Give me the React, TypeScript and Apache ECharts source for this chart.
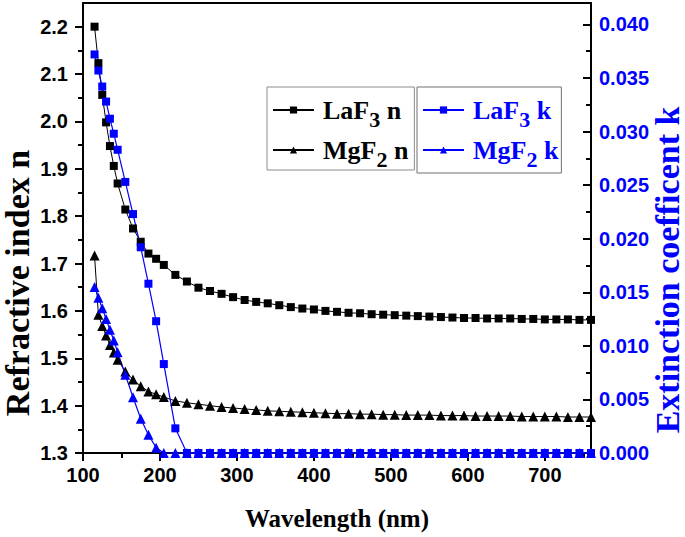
import React, { useEffect, useRef } from 'react';
import * as echarts from 'echarts';

// Wavelength (nm) sampling points, shared by all four curves
const wavelength = [
  115, 120, 125, 130, 135, 140, 145, 155, 165, 175, 185, 195, 205,
  220, 235, 250, 265, 280, 295, 310, 325, 340, 355, 370, 385, 400, 415, 430,
  445, 460, 475, 490, 505, 520, 535, 550, 565, 580, 595, 610, 625, 640, 655,
  670, 685, 700, 715, 730, 745, 760,
];

// Refractive index n (left axis)
const laf3N = [
  2.200, 2.123, 2.056, 1.998, 1.948, 1.906, 1.869, 1.814, 1.774, 1.746, 1.721, 1.710, 1.697,
  1.676, 1.662, 1.649, 1.642, 1.636, 1.629, 1.623, 1.619, 1.616, 1.612, 1.608, 1.605, 1.603, 1.600, 1.598,
  1.596, 1.595, 1.593, 1.592, 1.591, 1.590, 1.589, 1.588, 1.587, 1.586, 1.585, 1.585, 1.584, 1.584, 1.584,
  1.583, 1.583, 1.582, 1.582, 1.582, 1.581, 1.581,
];
const mgf2N = [
  1.717, 1.592, 1.568, 1.548, 1.528, 1.512, 1.497, 1.472, 1.455, 1.441, 1.430, 1.424, 1.418,
  1.410, 1.406, 1.403, 1.400, 1.397, 1.395, 1.393, 1.391, 1.389, 1.388, 1.387, 1.386, 1.385, 1.384, 1.383,
  1.383, 1.382, 1.382, 1.381, 1.381, 1.380, 1.380, 1.380, 1.379, 1.379, 1.379, 1.378, 1.378, 1.378, 1.378,
  1.377, 1.377, 1.377, 1.377, 1.376, 1.376, 1.376,
];

// Extinction coefficient k (right axis)
const laf3K = [
  0.0372, 0.0357, 0.0342, 0.0328, 0.0312, 0.0298, 0.0283, 0.0253, 0.0223, 0.0192, 0.0158, 0.0123, 0.0083,
  0.0023, 0, 0, 0, 0, 0, 0, 0, 0, 0, 0, 0, 0, 0, 0,
  0, 0, 0, 0, 0, 0, 0, 0, 0, 0, 0, 0, 0, 0, 0,
  0, 0, 0, 0, 0, 0, 0,
];
const mgf2K = [
  0.0155, 0.0145, 0.0135, 0.0125, 0.0115, 0.0105, 0.0094, 0.0073, 0.0052, 0.0032, 0.0017, 0.0005, 0,
  0, 0, 0, 0, 0, 0, 0, 0, 0, 0, 0, 0, 0, 0, 0,
  0, 0, 0, 0, 0, 0, 0, 0, 0, 0, 0, 0, 0, 0, 0,
  0, 0, 0, 0, 0, 0, 0,
];

// Tick values
const xTicks = [100, 200, 300, 400, 500, 600, 700];
const xMinorTicks = [150, 250, 350, 450, 550, 650, 750];
const nTicks = [1.3, 1.4, 1.5, 1.6, 1.7, 1.8, 1.9, 2.0, 2.1, 2.2];
const nMinorTicks = [1.35, 1.45, 1.55, 1.65, 1.75, 1.85, 1.95, 2.05, 2.15];
const kTicks = [0, 0.005, 0.01, 0.015, 0.02, 0.025, 0.03, 0.035, 0.04];
const kMinorTicks = [0.0025, 0.0075, 0.0125, 0.0175, 0.0225, 0.0275, 0.0325, 0.0375];

const seriesNames = ['LaF3 n', 'MgF2 n', 'LaF3 k', 'MgF2 k'];

const BLUE = '#0000ff';
const SANS = '"Liberation Sans", Arial, sans-serif';
const SERIF = '"Liberation Serif", "Times New Roman", serif';

const legendFormatter = (name: string) => {
  const m = name.match(/^([A-Za-z]+)(\d)(.*)$/);
  if (!m) return name;
  return `{p|}{a|${m[1]}}{s|${m[2]}}{a|${m[3]}}`;
};

const legendRich = {
  p: { width: 4, lineHeight: 40 },
  a: {
    fontFamily: SERIF, fontWeight: 'bold', fontSize: 26, lineHeight: 40,
    verticalAlign: 'top', padding: [7, 0, 0, 0],
  },
  s: {
    fontFamily: SERIF, fontWeight: 'bold', fontSize: 22, lineHeight: 40,
    verticalAlign: 'bottom',
  },
};

export default function App() {
  const ref = useRef<HTMLDivElement>(null);

  useEffect(() => {
    if (!ref.current) return;
    const chart = echarts.init(ref.current, null, { renderer: 'svg' });
    const xmin = 100, xmax = 760;
    const nmin = 1.3, nmax = 2.25;
    const kmin = 0, kmax = 0.042;

    const mk = (vals: number[]) => wavelength.map((w, i) => [w, vals[i]]);

    const option: any = {
      animation: false,
      backgroundColor: '#ffffff',
      grid: { left: 83, right: 94, top: 3, bottom: 84, containLabel: false },
      legend: [
        {
          data: [seriesNames[0], seriesNames[1]],
          orient: 'vertical',
          left: 267,
          top: 87,
          padding: [3, 6, 0, 5],
          itemGap: 0,
          itemWidth: 41,
          itemHeight: 9,
          borderColor: '#8c8c8c',
          borderWidth: 1,
          formatter: legendFormatter,
          textStyle: { color: '#000', rich: legendRich },
        },
        {
          data: [seriesNames[2], seriesNames[3]],
          orient: 'vertical',
          left: 417,
          top: 87,
          padding: [3, 3, 3, 5],
          itemGap: 0,
          itemWidth: 41,
          itemHeight: 9,
          borderColor: '#707070',
          borderWidth: 1,
          formatter: legendFormatter,
          textStyle: { color: BLUE, rich: legendRich },
        },
      ],
      xAxis: [
        {
          type: 'value',
          position: 'bottom',
          min: xmin,
          max: xmax,
          interval: 100,
          axisLine: { show: true, onZero: false, lineStyle: { color: '#000', width: 2 } },
          axisTick: { show: true, inside: false, length: 8, lineStyle: { color: '#000', width: 2 }, customValues: xTicks },
          axisLabel: {
            customValues: xTicks,
            margin: 12,
            color: '#000',
            fontSize: 20,
            fontWeight: 'bold',
            fontFamily: SANS,
          },
          splitLine: { show: false },
        },
        {
          type: 'value',
          position: 'bottom',
          min: xmin,
          max: xmax,
          axisLine: { show: false, onZero: false },
          axisTick: { show: true, inside: false, length: 5, lineStyle: { color: '#000', width: 2 }, customValues: xMinorTicks },
          axisLabel: { show: false },
          splitLine: { show: false },
        },
        {
          type: 'value',
          position: 'top',
          min: xmin,
          max: xmax,
          axisLine: { show: true, onZero: false, lineStyle: { color: '#000', width: 2 } },
          axisTick: { show: false },
          axisLabel: { show: false },
          splitLine: { show: false },
        },
      ],
      yAxis: [
        {
          type: 'value',
          position: 'left',
          min: nmin,
          max: nmax,
          interval: 0.1,
          axisLine: { show: true, onZero: false, lineStyle: { color: '#000', width: 2 } },
          axisTick: { show: true, inside: false, length: 8, lineStyle: { color: '#000', width: 2 }, customValues: nTicks },
          axisLabel: {
            customValues: nTicks,
            margin: 15,
            color: '#000',
            fontSize: 20,
            fontWeight: 'bold',
            fontFamily: SANS,
            formatter: (v: number) => v.toFixed(1),
          },
          splitLine: { show: false },
        },
        {
          type: 'value',
          position: 'right',
          min: kmin,
          max: kmax,
          interval: 0.005,
          axisLine: { show: true, onZero: false, lineStyle: { color: '#000', width: 2 } },
          axisTick: { show: true, inside: true, length: 8, lineStyle: { color: '#000', width: 2 }, customValues: kTicks },
          axisLabel: {
            customValues: kTicks,
            margin: 8,
            color: BLUE,
            fontSize: 20,
            fontWeight: 'bold',
            fontFamily: SANS,
            formatter: (v: number) => v.toFixed(3),
          },
          splitLine: { show: false },
        },
        {
          type: 'value',
          position: 'left',
          min: nmin,
          max: nmax,
          axisLine: { show: false, onZero: false },
          axisTick: { show: true, inside: false, length: 5, lineStyle: { color: '#000', width: 2 }, customValues: nMinorTicks },
          axisLabel: { show: false },
          splitLine: { show: false },
        },
        {
          type: 'value',
          position: 'right',
          min: kmin,
          max: kmax,
          axisLine: { show: false, onZero: false },
          axisTick: { show: true, inside: true, length: 5, lineStyle: { color: '#000', width: 2 }, customValues: kMinorTicks },
          axisLabel: { show: false },
          splitLine: { show: false },
        },
      ],
      graphic: [
        {
          type: 'text',
          x: 337,
          y: 518,
          style: {
            text: 'Wavelength (nm)',
            fill: '#000',
            fontFamily: SERIF,
            fontWeight: 'bold',
            fontSize: 25,
            align: 'center',
            verticalAlign: 'middle',
          },
        },
        {
          type: 'text',
          x: 17.5,
          y: 283,
          rotation: Math.PI / 2,
          style: {
            text: 'Refractive index n',
            fill: '#000',
            fontFamily: SERIF,
            fontWeight: 'bold',
            fontSize: 34,
            align: 'center',
            verticalAlign: 'middle',
          },
        },
        {
          type: 'text',
          x: 667.5,
          y: 270,
          rotation: Math.PI / 2,
          style: {
            text: 'Extinction coefficent k',
            fill: BLUE,
            fontFamily: SERIF,
            fontWeight: 'bold',
            fontSize: 34,
            align: 'center',
            verticalAlign: 'middle',
          },
        },
      ],
      series: [
        {
          name: seriesNames[0],
          type: 'line',
          xAxisIndex: 0,
          yAxisIndex: 0,
          data: mk(laf3N),
          symbol: 'rect',
          symbolSize: 8,
          lineStyle: { color: '#000', width: 1 },
          itemStyle: { color: '#000' },
          clip: false,
        },
        {
          name: seriesNames[1],
          type: 'line',
          xAxisIndex: 0,
          yAxisIndex: 0,
          data: mk(mgf2N),
          symbol: 'triangle',
          symbolSize: 10,
          lineStyle: { color: '#000', width: 1 },
          itemStyle: { color: '#000' },
          clip: false,
        },
        {
          name: seriesNames[2],
          type: 'line',
          xAxisIndex: 0,
          yAxisIndex: 1,
          data: mk(laf3K),
          symbol: 'rect',
          symbolSize: 8,
          lineStyle: { color: BLUE, width: 1.2 },
          itemStyle: { color: BLUE },
          clip: false,
        },
        {
          name: seriesNames[3],
          type: 'line',
          xAxisIndex: 0,
          yAxisIndex: 1,
          data: mk(mgf2K),
          symbol: 'triangle',
          symbolSize: 10,
          lineStyle: { color: BLUE, width: 1.2 },
          itemStyle: { color: BLUE },
          clip: false,
        },
      ],
    };

    chart.setOption(option);
    return () => chart.dispose();
  }, []);

  return (
    <div
      ref={ref}
      style={{ position: 'fixed', left: 0, top: 0, width: 685, height: 537, background: '#fff' }}
    />
  );
}
